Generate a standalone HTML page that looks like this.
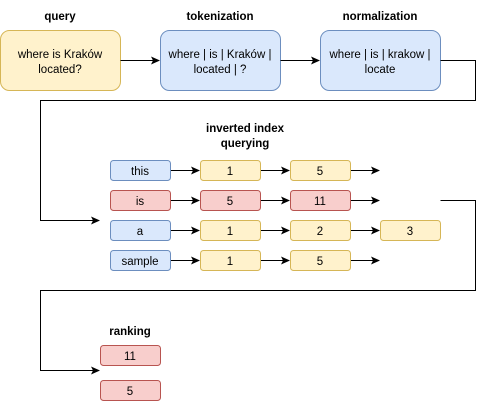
<!DOCTYPE html>
<html><head><style>body{margin:0;background:#fff}svg{display:block}text{font-family:"Liberation Sans",sans-serif;font-size:11.5px;fill:#000;text-anchor:middle}.b{font-weight:bold}</style></head><body>
<svg width="484" height="401" viewBox="0 0 484 401">
<defs><marker id="a" markerWidth="9" markerHeight="9" refX="8" refY="4.5" orient="auto" markerUnits="userSpaceOnUse"><path d="M0,0.5 L9,4.5 L0,8.5 L2,4.5 Z" fill="#000"/></marker></defs>
<g class="b"><text x="60" y="20" class="b">query</text><text x="220" y="20" class="b">tokenization</text><text x="380" y="20" class="b">normalization</text>
<text x="245" y="132" class="b">inverted index</text><text x="245" y="147" class="b">querying</text><text x="130" y="335" class="b">ranking</text></g>
<rect x="0.5" y="30.5" width="120" height="60" rx="9" fill="#fff2cc" stroke="#d6b656"/>
<rect x="160.5" y="30.5" width="120" height="60" rx="9" fill="#dae8fc" stroke="#6c8ebf"/>
<rect x="320.5" y="30.5" width="120" height="60" rx="9" fill="#dae8fc" stroke="#6c8ebf"/>
<text x="60" y="58">where is Kraków</text><text x="60" y="73">located?</text>
<text x="220" y="58">where | is | Kraków |</text><text x="220" y="73">located | ?</text>
<text x="380" y="58">where | is | krakow |</text><text x="380" y="73">locate</text>
<g fill="none" stroke="#000" stroke-width="1">
<path d="M120.5 60.5H159" marker-end="url(#a)"/><path d="M280.5 60.5H319" marker-end="url(#a)"/>
<path d="M440.5 60.5H475.5V100.5H40.5V220.5H99" marker-end="url(#a)"/>
<path d="M440.5 200.5H475.5V290.5H40.5V370.5H99" marker-end="url(#a)"/>
<path d="M170.5 170.5H199" marker-end="url(#a)"/><path d="M260.5 170.5H289" marker-end="url(#a)"/><path d="M350.5 170.5H379" marker-end="url(#a)"/>
<path d="M170.5 200.5H199" marker-end="url(#a)"/><path d="M260.5 200.5H289" marker-end="url(#a)"/><path d="M350.5 200.5H379" marker-end="url(#a)"/>
<path d="M170.5 230.5H199" marker-end="url(#a)"/><path d="M260.5 230.5H289" marker-end="url(#a)"/><path d="M350.5 230.5H379" marker-end="url(#a)"/>
<path d="M170.5 260.5H199" marker-end="url(#a)"/><path d="M260.5 260.5H289" marker-end="url(#a)"/><path d="M350.5 260.5H379" marker-end="url(#a)"/>
</g>
<g stroke-width="1">
<rect x="110.5" y="160.5" width="60" height="20" rx="3" fill="#dae8fc" stroke="#6c8ebf"/>
<rect x="200.5" y="160.5" width="60" height="20" rx="3" fill="#fff2cc" stroke="#d6b656"/>
<rect x="290.5" y="160.5" width="60" height="20" rx="3" fill="#fff2cc" stroke="#d6b656"/>
<rect x="110.5" y="190.5" width="60" height="20" rx="3" fill="#f8cecc" stroke="#b85450"/>
<rect x="200.5" y="190.5" width="60" height="20" rx="3" fill="#f8cecc" stroke="#b85450"/>
<rect x="290.5" y="190.5" width="60" height="20" rx="3" fill="#f8cecc" stroke="#b85450"/>
<rect x="110.5" y="220.5" width="60" height="20" rx="3" fill="#dae8fc" stroke="#6c8ebf"/>
<rect x="200.5" y="220.5" width="60" height="20" rx="3" fill="#fff2cc" stroke="#d6b656"/>
<rect x="290.5" y="220.5" width="60" height="20" rx="3" fill="#fff2cc" stroke="#d6b656"/>
<rect x="380.5" y="220.5" width="60" height="20" rx="3" fill="#fff2cc" stroke="#d6b656"/>
<rect x="110.5" y="250.5" width="60" height="20" rx="3" fill="#dae8fc" stroke="#6c8ebf"/>
<rect x="200.5" y="250.5" width="60" height="20" rx="3" fill="#fff2cc" stroke="#d6b656"/>
<rect x="290.5" y="250.5" width="60" height="20" rx="3" fill="#fff2cc" stroke="#d6b656"/>
<rect x="100.5" y="345.5" width="60" height="20" rx="3" fill="#f8cecc" stroke="#b85450"/>
<rect x="100.5" y="380.5" width="60" height="20" rx="3" fill="#f8cecc" stroke="#b85450"/>
</g>
<text x="140" y="175">this</text><text x="230" y="175">1</text><text x="320" y="175">5</text>
<text x="140" y="205">is</text><text x="230" y="205">5</text><text x="320" y="205">11</text>
<text x="140" y="235">a</text><text x="230" y="235">1</text><text x="320" y="235">2</text><text x="410" y="235">3</text>
<text x="140" y="265">sample</text><text x="230" y="265">1</text><text x="320" y="265">5</text>
<text x="130" y="360">11</text><text x="130" y="395">5</text>
</svg></body></html>
